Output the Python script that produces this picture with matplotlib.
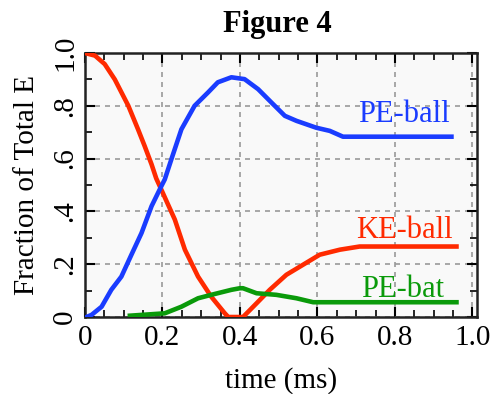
import matplotlib
matplotlib.use("Agg")
import matplotlib.pyplot as plt
from matplotlib.ticker import MultipleLocator, FixedLocator

# ---- data ----
ke_t = [0.0, 0.026, 0.051, 0.077, 0.112, 0.137, 0.154, 0.172, 0.184, 0.197, 0.232, 0.258,
        0.292, 0.326, 0.361, 0.37, 0.408, 0.443, 0.477, 0.52, 0.563, 0.606, 0.658, 0.709, 0.959]
ke_v = [1.0, 0.99, 0.958, 0.90, 0.80, 0.711, 0.648, 0.578, 0.525, 0.483, 0.369, 0.255,
        0.153, 0.077, 0.014, 0.0, 0.0, 0.052, 0.103, 0.16, 0.198, 0.236, 0.255, 0.267, 0.267]

pe_ball_t = [0.004, 0.017, 0.043, 0.068, 0.094, 0.12, 0.146, 0.172, 0.197, 0.206, 0.223, 0.249,
             0.283, 0.318, 0.343, 0.378, 0.412, 0.447, 0.481, 0.516, 0.546, 0.597, 0.632, 0.666, 0.946]
pe_ball_v = [0.0, 0.008, 0.039, 0.103, 0.153, 0.236, 0.318, 0.42, 0.495, 0.521, 0.597, 0.711,
             0.80, 0.851, 0.889, 0.908, 0.901, 0.863, 0.813, 0.762, 0.743, 0.717, 0.705, 0.683, 0.683]

pe_bat_t = [0.116, 0.206, 0.249, 0.292, 0.326, 0.378, 0.40, 0.408, 0.443, 0.494, 0.546, 0.589, 0.959]
pe_bat_v = [0.005, 0.014, 0.039, 0.071, 0.084, 0.103, 0.109, 0.109, 0.09, 0.084, 0.071, 0.056, 0.056]

x_ticks = [0, 0.2, 0.4, 0.6, 0.8, 1.0]
x_labels = ["0", "0.2", "0.4", "0.6", "0.8", "1.0"]
y_ticks = [0, 0.2, 0.4, 0.6, 0.8, 1.0]
y_labels = ["0", ".2", ".4", ".6", ".8", "1.0"]

series_labels = ["PE-ball", "KE-ball", "PE-bat"]

# ---- figure ----
serif = ["Liberation Serif", "DejaVu Serif"]
plt.rcParams["font.family"] = serif

fig = plt.figure(figsize=(4.91, 3.94), dpi=100)
ax = fig.add_axes([0.173, 0.1954, 0.7985, 0.6701])
ax.set_facecolor("#f9f9f9")

red = "#ff2a00"
blue = "#1a3cff"
green = "#0a9a0a"

ax.plot(ke_t, ke_v, color=red, lw=3.3, solid_joinstyle="round", zorder=3)
ax.plot(pe_ball_t, pe_ball_v, color=blue, lw=3.3, solid_joinstyle="round", zorder=3)
ax.plot(pe_bat_t, pe_bat_v, color=green, lw=3.3, solid_joinstyle="round", zorder=3)

ax.set_xlim(0, 1.012)
ax.set_ylim(0, 1.0)

ax.xaxis.set_major_locator(FixedLocator(x_ticks))
ax.set_xticklabels(x_labels)
ax.yaxis.set_major_locator(FixedLocator(y_ticks))
ax.set_yticklabels(y_labels, rotation=90, va="center")
ax.xaxis.set_minor_locator(MultipleLocator(0.05))
ax.yaxis.set_minor_locator(MultipleLocator(0.1))

ax.tick_params(which="both", direction="in", top=True, right=True, color="black")
ax.tick_params(which="major", length=7, width=1.5, labelsize=21)
ax.tick_params(axis="x", which="major", pad=6)
ax.tick_params(axis="y", which="major", pad=5)
ax.tick_params(which="minor", length=5, width=1.2)

for s in ax.spines.values():
    s.set_linewidth(1.8)
    s.set_color("#222222")

ax.grid(True, which="major", color="#999999", linestyle=(0, (3, 3)), linewidth=1.2)

ax.set_xlabel("time (ms)", fontsize=21)
ax.xaxis.set_label_coords(0.5, -0.19)
ax.set_ylabel("Fraction of Total E", fontsize=21)
ax.yaxis.set_label_coords(-0.115, 0.5)

ax.text(0.941, 0.738, series_labels[0], color=blue, fontsize=22, ha="right", va="baseline")
ax.text(0.949, 0.299, series_labels[1], color=red, fontsize=22, ha="right", va="baseline")
ax.text(0.928, 0.077, series_labels[2], color=green, fontsize=22, ha="right", va="baseline")

fig.text(0.565, 0.919, "Figure 4", ha="center", va="baseline", fontsize=22, fontweight="bold")

fig.savefig("out.png", dpi=100)
